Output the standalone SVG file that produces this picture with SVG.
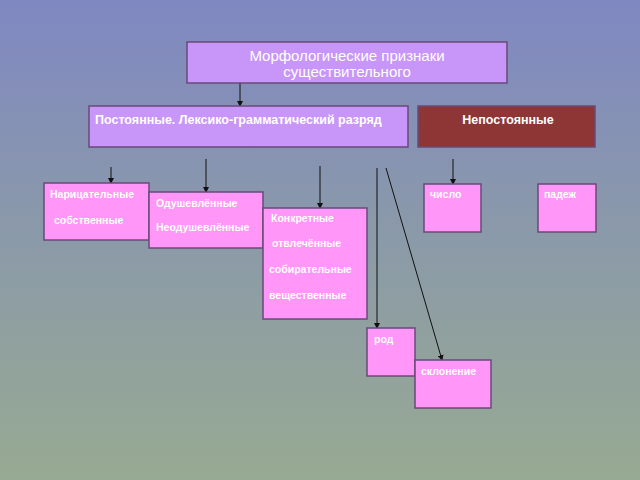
<svg xmlns="http://www.w3.org/2000/svg" width="640" height="480" viewBox="0 0 640 480">
<defs>
<linearGradient id="bg" x1="0" y1="0" x2="0" y2="1">
<stop offset="0" stop-color="#8088c2"/>
<stop offset="0.5" stop-color="#8b9aa8"/>
<stop offset="1" stop-color="#97aa92"/>
</linearGradient>
<marker id="ah" markerWidth="6" markerHeight="6" refX="5" refY="3" orient="auto" markerUnits="userSpaceOnUse">
<path d="M0,0 L6,3 L0,6 Z" fill="#111"/>
</marker>
<style>
.box{stroke:#6a4a78;stroke-width:1.5}
.lav{fill:#c896f8}
.pink{fill:#ff96f8}
.red{fill:#8e3535}
.t{font-family:"Liberation Sans",Arial,sans-serif;fill:#fff;font-weight:bold;font-size:10.5px}
.title{font-family:"Liberation Sans",Arial,sans-serif;fill:#fff;font-size:15px}
.hd{font-family:"Liberation Sans",Arial,sans-serif;fill:#fff;font-weight:bold;font-size:12.5px}
.c{stroke:#111;stroke-width:1;fill:none;marker-end:url(#ah)}
</style>
</defs>
<rect width="640" height="480" fill="url(#bg)"/>
<g id="connectors">
<line class="c" x1="240" y1="83" x2="240" y2="106"/>
<line class="c" x1="111" y1="167" x2="111" y2="183"/>
<line class="c" x1="206" y1="159" x2="206" y2="192"/>
<line class="c" x1="320" y1="166" x2="320" y2="208"/>
<line class="c" x1="377" y1="168" x2="377" y2="328"/>
<line class="c" x1="386" y1="168" x2="442" y2="360"/>
<line class="c" x1="453" y1="159" x2="453" y2="184"/>
</g>
<g id="title">
<rect class="box lav" x="187" y="42" width="320" height="41"/>
<text class="title" x="347" y="61" text-anchor="middle">Морфологические признаки</text>
<text class="title" x="347" y="77" text-anchor="middle">существительного</text>
</g>
<g id="const">
<rect class="box lav" x="89" y="106" width="319" height="41"/>
<text class="hd" x="95" y="124">Постоянные. Лексико-грамматический разряд</text>
</g>
<g id="nonconst">
<rect class="box red" x="418" y="106" width="177" height="41"/>
<text class="hd" x="508" y="124" text-anchor="middle">Непостоянные</text>
</g>
<g id="common">
<rect class="box pink" x="44" y="183" width="105" height="57"/>
<text class="t" x="50" y="198">Нарицательные</text>
<text class="t" x="54" y="224">собственные</text>
</g>
<g id="animate">
<rect class="box pink" x="149" y="192" width="114" height="56"/>
<text class="t" x="156" y="207">Одушевлённые</text>
<text class="t" x="156" y="231">Неодушевлённые</text>
</g>
<g id="concrete">
<rect class="box pink" x="263" y="208" width="104" height="111"/>
<text class="t" x="271" y="222">Конкретные</text>
<text class="t" x="272" y="247">отвлечённые</text>
<text class="t" x="269" y="273">собирательные</text>
<text class="t" x="269" y="299">вещественные</text>
</g>
<g id="gender">
<rect class="box pink" x="367" y="328" width="48" height="48"/>
<text class="t" x="374" y="343">род</text>
</g>
<g id="declension">
<rect class="box pink" x="415" y="360" width="76" height="48"/>
<text class="t" x="421" y="375">склонение</text>
</g>
<g id="number">
<rect class="box pink" x="424" y="184" width="57" height="48"/>
<text class="t" x="430" y="198">число</text>
</g>
<g id="case">
<rect class="box pink" x="538" y="184" width="58" height="48"/>
<text class="t" x="544" y="198">падеж</text>
</g>
</svg>
